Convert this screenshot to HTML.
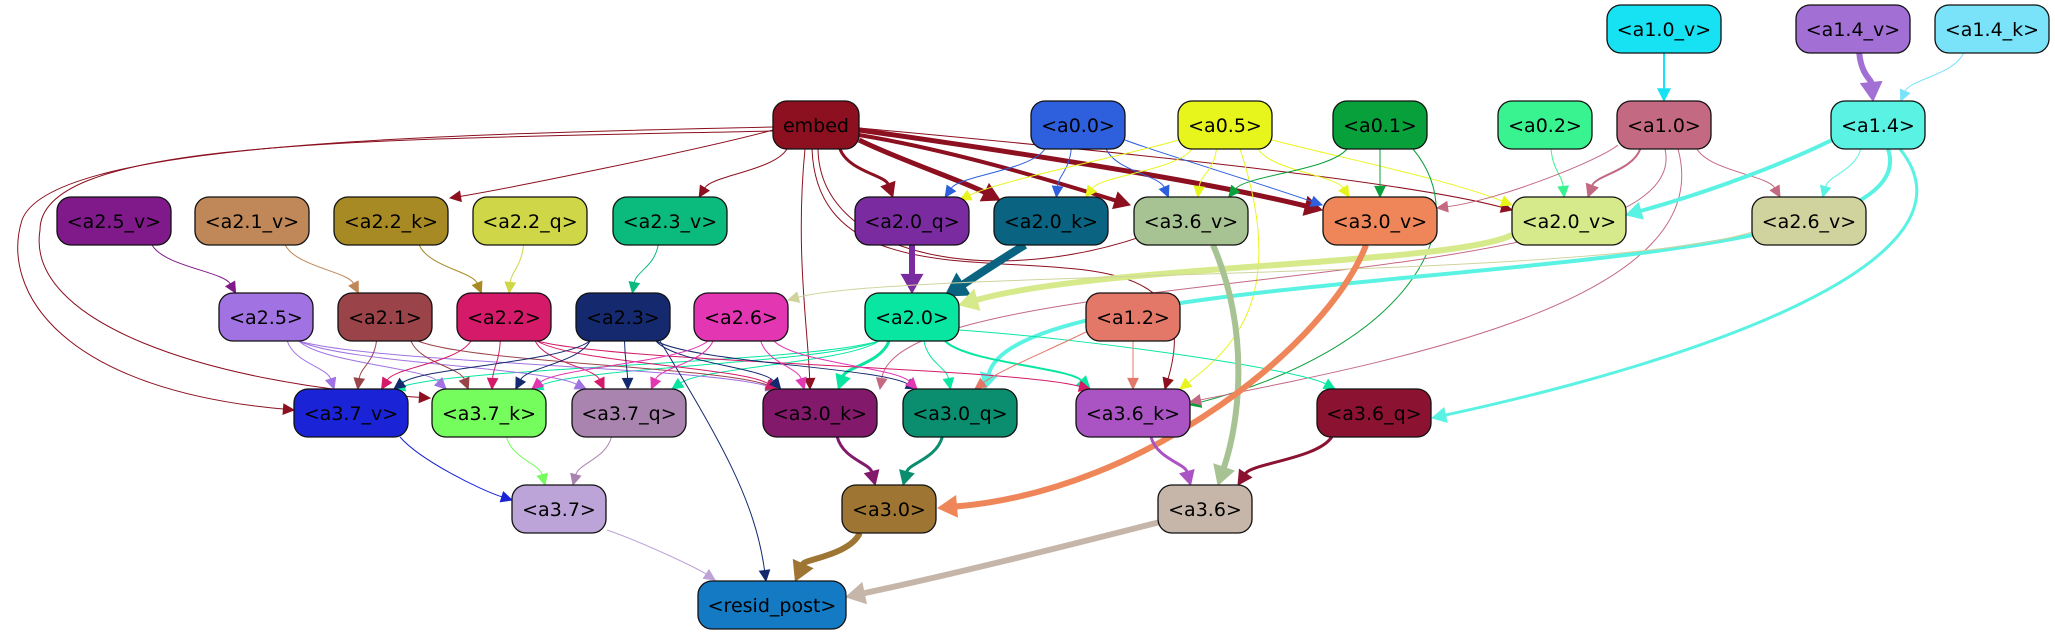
<!DOCTYPE html>
<html><head><meta charset="utf-8"><style>
html,body{margin:0;padding:0;background:#fff;width:2055px;height:635px;overflow:hidden}
svg{display:block}
text{font-family:"DejaVu Sans","Liberation Sans",sans-serif;font-size:19px;text-anchor:middle;dominant-baseline:central}
</style></head><body>
<svg id="s" width="2055" height="635" viewBox="0 0 2055 635" xmlns="http://www.w3.org/2000/svg">
<g id="edges"></g><g id="nodes"></g>
</svg>
<script>
var N={
"a1.0_v":[1664,29,114,"#17e2f3"],"a1.4_v":[1853,29,114,"#a26fd5"],"a1.4_k":[1992,29,114,"#7ae3f9"],
"embed":[816,125,86,"#8c1020"],"a0.0":[1078,125,94,"#2e5fdd"],"a0.5":[1225,125,94,"#e8f51d"],"a0.1":[1380,125,94,"#08a03a"],
"a0.2":[1545,125,94,"#39f390"],"a1.0":[1664,125,94,"#c46982"],"a1.4":[1878,125,94,"#5af2e2"],
"a2.5_v":[114,221,114,"#801a8b"],"a2.1_v":[252,221,114,"#c08858"],"a2.2_k":[391,221,114,"#a88a24"],"a2.2_q":[530,221,114,"#cfd647"],
"a2.3_v":[670,221,114,"#0bba7d"],"a2.0_q":[912,221,114,"#7a2ba0"],"a2.0_k":[1051,221,114,"#0a6380"],"a3.6_v":[1191,221,114,"#a8c393"],
"a3.0_v":[1380,221,114,"#ef8659"],"a2.0_v":[1569,221,114,"#d7ea8b"],"a2.6_v":[1809,221,114,"#d0d39d"],
"a2.5":[266,317,94,"#a072e2"],"a2.1":[385,317,94,"#9a4348"],"a2.2":[504,317,94,"#d41a68"],"a2.3":[623,317,94,"#152a6e"],
"a2.6":[741,317,94,"#e236b3"],"a2.0":[912,317,94,"#08e6a2"],"a1.2":[1133,317,94,"#e37868"],
"a3.7_v":[351,413,114,"#1a24d6"],"a3.7_k":[489,413,114,"#75fc5d"],"a3.7_q":[629,413,114,"#a984ae"],"a3.0_k":[820,413,114,"#82196a"],
"a3.0_q":[960,413,114,"#0a8e6f"],"a3.6_k":[1133,413,114,"#aa54c3"],"a3.6_q":[1374,413,114,"#8c1232"],
"a3.7":[559,509,94,"#bca3d8"],"a3.0":[889,509,94,"#9f7533"],"a3.6":[1205,509,94,"#c6b6a9"],
"resid_post":[772,605,148,"#157ac4"]};
var E=[
["a1.0_v","a1.0","#17e2f3",2],["a1.4_v","a1.4","#a26fd5",6],["a1.4_k","a1.4","#7ae3f9",1],
["embed","a2.2_k","#8c1020",1,[[700,150],[500,190],[773,130],[450,198]]],["embed","a2.3_v","#8c1020",1],["embed","a2.0_q","#8c1020",3],["embed","a2.0_k","#8c1020",5,[[900,160],[960,180],[859,140],[1000,200]]],
["embed","a3.6_v","#8c1020",4,[[950,150],[1050,180],[859,135],[1130,205]]],["embed","a3.0_v","#8c1020",5,[[1000,150],[1200,180],[859,130],[1322,210]]],["embed","a2.0_v","#8c1020",1,[[1100,150],[1400,180],[859,128],[1512,210]]],
["embed","a3.7_v","#8c1020",1,{d:"M773,127 C400,135 50,145 22,220 C0,290 60,392 294,410",c2:[150,398],end:[294,410]}],
["embed","a3.7_k","#8c1020",1,{d:"M773,131 C350,140 40,140 40,230 C25,320 200,385 430,398",c2:[300,390],end:[430,398]}],
["embed","a3.0_k","#8c1020",1,[[795,250],[808,330],[805,149],[810,389]]],["embed","a3.6_k","#8c1020",1,[[820,360],[1230,170],[812,149],[1165,389]]],
["embed","a2.0","#8c1020",1,[[820,260],[1000,290],[818,149],[1165,228]]],
["a0.0","a2.0_q","#2e5fdd",1],["a0.0","a2.0_k","#2e5fdd",1],["a0.0","a3.6_v","#2e5fdd",1],["a0.0","a3.0_v","#2e5fdd",1,[[1150,150],[1250,180],[1125,140],[1322,205]]],
["a0.5","a2.0_q","#e8f51d",1,[[1150,150],[1000,180],[1178,140],[960,200]]],["a0.5","a2.0_k","#e8f51d",1],["a0.5","a3.6_v","#e8f51d",1],["a0.5","a3.0_v","#e8f51d",1],["a0.5","a2.0_v","#e8f51d",1,[[1350,160],[1450,180],[1272,140],[1512,205]]],
["a0.5","a3.6_k","#e8f51d",1,[[1290,300],[1230,350],[1240,149],[1180,389]]],
["a0.1","a3.6_v","#08a03a",1],["a0.1","a3.0_v","#08a03a",1],["a0.1","a3.6_k","#08a03a",1,[[1480,230],[1400,350],[1413,149],[1190,405]]],
["a0.2","a2.0_v","#39f390",1],["a1.0","a2.0_v","#c46982",2],["a1.0","a2.6_v","#c46982",1],["a1.0","a3.0_v","#c46982",1,[[1600,160],[1500,200],[1618,145],[1437,208]]],
["a1.0","a3.6_k","#c46982",1,[[1720,300],[1400,360],[1678,149],[1190,402]]],["a1.0","a3.0_k","#c46982",1,[[1700,300],[900,260],[1665,149],[880,389]]],
["a1.4","a2.0_v","#5af2e2",4,[[1760,175],[1680,200],[1832,140],[1626,215]]],["a1.4","a2.6_v","#5af2e2",1],
["a1.4","a3.0_q","#5af2e2",4,[[1940,300],[1020,250],[1888,149],[985,389]]],["a1.4","a3.6_q","#5af2e2",3,[[1990,260],[1700,360],[1900,149],[1432,418]]],
["a2.5_v","a2.5","#801a8b",1],["a2.1_v","a2.1","#c08858",1],["a2.2_k","a2.2","#a88a24",1],["a2.2_q","a2.2","#cfd647",1],["a2.3_v","a2.3","#0bba7d",1],
["a2.0_q","a2.0","#7a2ba0",6,[[912,260],[912,270],[912,245],[912,293]]],["a2.0_k","a2.0","#0a6380",8,[[1000,260],[970,280],[1025,245],[945,296]]],["a2.0_v","a2.0","#d7ea8b",6,[[1450,265],[1100,265],[1512,235],[959,305]]],
["a2.6_v","a2.6","#d0d39d",1,[[1600,280],[900,270],[1752,232],[788,300]]],
["a2.0","a3.7_v","#08e6a2",1],["a2.0","a3.7_k","#08e6a2",1],["a2.0","a3.7_q","#08e6a2",1],["a2.0","a3.0_k","#08e6a2",3],
["a2.0","a3.0_q","#08e6a2",1],["a2.0","a3.6_k","#08e6a2",2],["a2.0","a3.6_q","#08e6a2",1,[[1100,340],[1300,370],[959,330],[1335,389]]],
["a2.5","a3.7_v","#a072e2",1],["a2.5","a3.7_k","#a072e2",1],["a2.5","a3.7_q","#a072e2",1],["a2.5","a3.0_k","#a072e2",1],
["a2.1","a3.7_v","#9a4348",1],["a2.1","a3.7_k","#9a4348",1],["a2.1","a3.0_k","#9a4348",1],
["a2.2","a3.7_v","#d41a68",1],["a2.2","a3.7_k","#d41a68",1],["a2.2","a3.7_q","#d41a68",1],["a2.2","a3.0_k","#d41a68",1],["a2.2","a3.6_k","#d41a68",1],
["a2.3","a3.7_v","#152a6e",1],["a2.3","a3.7_k","#152a6e",1],["a2.3","a3.7_q","#152a6e",1],["a2.3","a3.0_k","#152a6e",1],["a2.3","a3.0_q","#152a6e",1],
["a2.3","resid_post","#152a6e",1,[[720,440],[755,500],[660,341],[766,581]]],
["a2.6","a3.7_k","#e236b3",1],["a2.6","a3.7_q","#e236b3",1],["a2.6","a3.0_k","#e236b3",1],["a2.6","a3.0_q","#e236b3",1],
["a1.2","a3.6_k","#e37868",1],["a1.2","a3.0_q","#e37868",1,[[1050,350],[1000,370],[1090,330],[975,389]]],
["a3.6_v","a3.6","#a8c393",6,[[1250,330],[1240,420],[1213,245],[1218,485]]],["a3.0_v","a3.0","#ef8659",6,[[1330,340],[1150,490],[1366,245],[938,508]]],
["a3.0_k","a3.0","#82196a",3],["a3.0_q","a3.0","#0a8e6f",3],["a3.6_k","a3.6","#aa54c3",3],["a3.6_q","a3.6","#8c1232",3],
["a3.7_v","a3.7","#1a24d6",1,[[420,460],[480,490],[400,437],[512,500]]],["a3.7_k","a3.7","#75fc5d",1],["a3.7_q","a3.7","#a984ae",1],
["a3.0","resid_post","#9f7533",6],["a3.6","resid_post","#c6b6a9",6,[[1050,550],[950,575],[1160,522],[846,597]]],["a3.7","resid_post","#bca3d8",1,[[650,545],[700,570],[607,530],[715,580]]]];
var NS="http://www.w3.org/2000/svg",eg=document.getElementById("edges"),ng=document.getElementById("nodes");
function el(t,a,p){var e=document.createElementNS(NS,t);for(var k in a)e.setAttribute(k,a[k]);p.appendChild(e);return e;}
function cl(v,m){return Math.max(-m,Math.min(m,v));}
function head(tx,ty,c2,w,col){
 var al=9+w*1.6,dx=tx-c2[0],dy=ty-c2[1],L=Math.hypot(dx,dy)||1;dx/=L;dy/=L;
 var bx=tx-dx*al,by=ty-dy*al,hw=4+w*1.1;
 el("polygon",{points:tx+","+ty+" "+(bx-dy*hw)+","+(by+dx*hw)+" "+(bx+dy*hw)+","+(by-dx*hw),fill:col,stroke:col},eg);
 return [bx,by];}
E.forEach(function(e){
 var s=N[e[0]],t=N[e[1]],w=e[3],c1,c2,sx,sy,tx,ty;
 if(e[4]&&e[4].d){el("path",{d:e[4].d,fill:"none",stroke:e[2],"stroke-width":w},eg);head(e[4].end[0],e[4].end[1],e[4].c2,w,e[2]);return;}
 if(e[4]){c1=e[4][0];c2=e[4][1];
   if(e[4][2]){sx=e[4][2][0];sy=e[4][2][1];tx=e[4][3][0];ty=e[4][3][1];}
   else{sx=s[0];sy=s[1]+24;tx=t[0];ty=t[1]-24;}}
 else{var d=t[0]-s[0];sx=s[0]+cl(d*0.25,s[2]/2-14);sy=s[1]+24;tx=t[0]-cl(d*0.2,t[2]/2-14);ty=t[1]-24;
   c1=[sx+(tx-sx)*0.15,sy+(ty-sy)*0.45];c2=[tx-(tx-sx)*0.15,ty-(ty-sy)*0.45];}
 var b=head(tx,ty,c2,w,e[2]);
 el("path",{d:"M"+sx+","+sy+" C"+c1+" "+c2[0]+","+c2[1]+" "+b[0]+","+b[1],fill:"none",stroke:e[2],"stroke-width":w},eg);
});
for(var k in N){var n=N[k];
 el("rect",{x:n[0]-n[2]/2,y:n[1]-24,width:n[2],height:48,rx:14,fill:n[3],stroke:"#111","stroke-width":1.3},ng);
 var tx=el("text",{x:n[0],y:n[1]+1,fill:"#000"},ng);tx.textContent=k==="embed"?"embed":"<"+k+">";}
</script>
</body></html>
